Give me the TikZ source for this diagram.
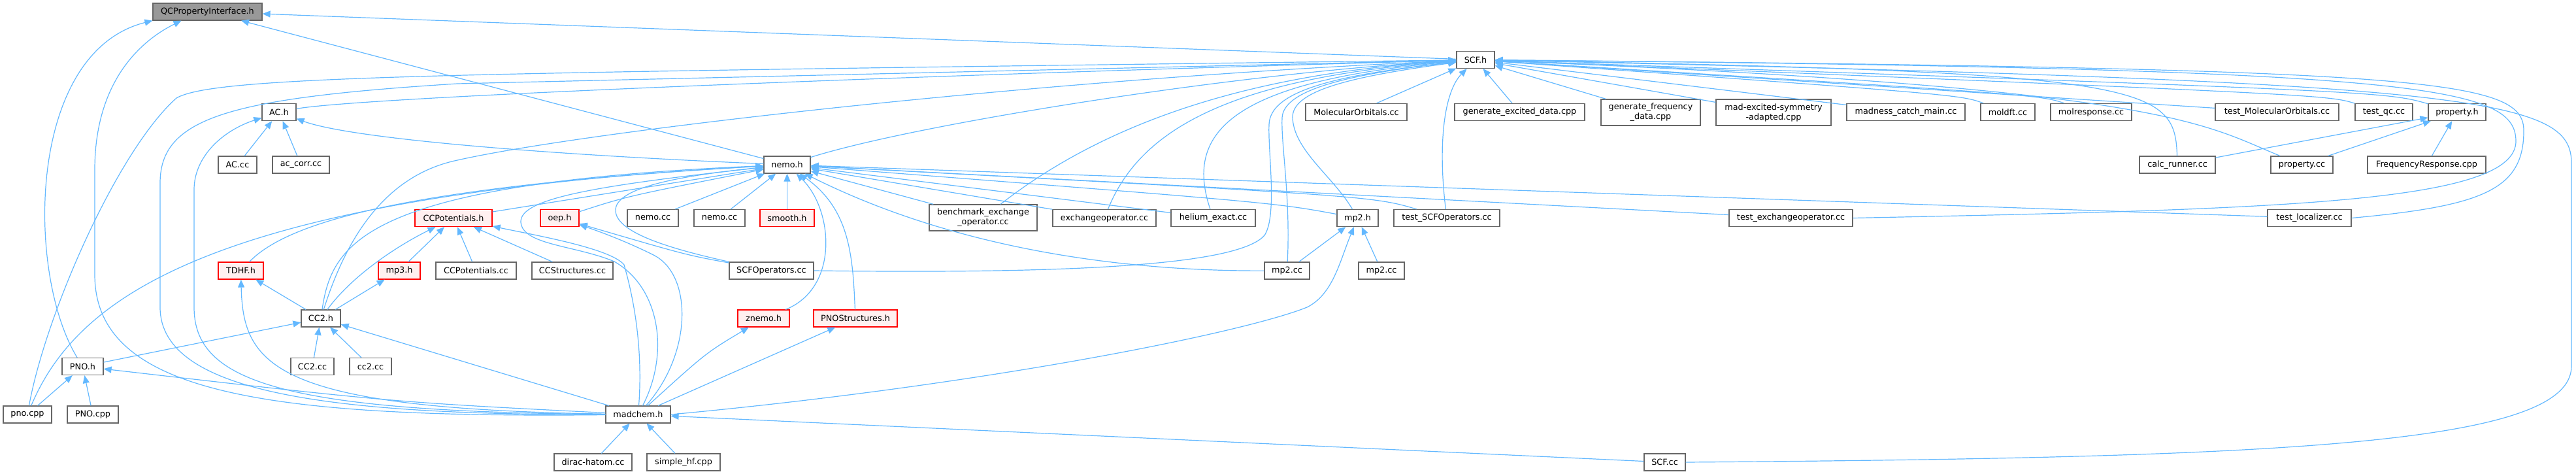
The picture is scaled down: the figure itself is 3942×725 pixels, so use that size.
\documentclass[tikz,border=0pt]{standalone}
\usepackage{fontspec}
\setmainfont{DejaVu Sans}
\usetikzlibrary{arrows.meta}

\definecolor{incblue}{HTML}{63B8FF}
\definecolor{boxline}{HTML}{666666}
\definecolor{rootfill}{HTML}{999999}
\definecolor{cutfill}{HTML}{FFF0F0}

\begin{document}
\begin{tikzpicture}[x=1pt, y=-1pt,
    file/.style={draw=boxline, fill=white, line width=1.2pt, inner sep=0pt, minimum height=26pt, align=center, font=\fontsize{12.8}{15}\selectfont},
    cut/.style={file, draw=red, fill=cutfill},
    root/.style={file, fill=rootfill},
    inc/.style={draw=incblue, line width=1.2pt, -{Triangle[length=12pt,width=10pt]}}]
    \useasboundingbox (0,0) rectangle (3942,725);

    % rank 0 and 1
    \node[root, minimum width=167pt] (qcpi) at (317.5,18) {QCPropertyInterface.h};
    \node[file, minimum width=58pt] (scfh) at (2258,91.5) {SCF.h};

    % rank 2
    \node[file, minimum width=52pt] (ach) at (427,171.5) {AC.h};
    \node[file, minimum width=155pt] (molorb) at (2075.5,171.5) {MolecularOrbitals.cc};
    \node[file, minimum width=199pt] (genexc) at (2325.5,171.5) {generate\_excited\_data.cpp};
    \node[file, minimum width=152pt, minimum height=40pt] (genfreq) at (2526,172) {generate\_frequency\\\_data.cpp};
    \node[file, minimum width=176pt, minimum height=40pt] (madexc) at (2714,172) {mad-excited-symmetry\\-adapted.cpp};
    \node[file, minimum width=181pt] (catchmain) at (2916.5,171.5) {madness\_catch\_main.cc};
    \node[file, minimum width=83pt] (moldft) at (3072.5,171.5) {moldft.cc};
    \node[file, minimum width=124pt] (molresp) at (3200,171.5) {molresponse.cc};
    \node[file, minimum width=189pt] (testmo) at (3484.5,171.5) {test\_MolecularOrbitals.cc};
    \node[file, minimum width=88pt] (testqc) at (3648,171.5) {test\_qc.cc};
    \node[file, minimum width=88pt] (proph) at (3760,171.5) {property.h};

    % rank 3
    \node[file, minimum width=59pt] (accc) at (363.5,252) {AC.cc};
    \node[file, minimum width=87pt] (accorr) at (460.5,252) {ac\_corr.cc};
    \node[file, minimum width=71pt] (nemoh) at (1204.5,252) {nemo.h};
    \node[file, minimum width=116pt] (calcrun) at (3332,252) {calc\_runner.cc};
    \node[file, minimum width=95pt] (propcc) at (3522.5,252) {property.cc};
    \node[file, minimum width=181pt] (freqresp) at (3713.5,252) {FrequencyResponse.cpp};

    % rank 4
    \node[cut, minimum width=118pt] (ccpoth) at (694,333.5) {CCPotentials.h};
    \node[cut, minimum width=59pt] (oeph) at (856.5,333.5) {oep.h};
    \node[file, minimum width=78pt] (nemocc) at (999,333.5) {nemo.cc};
    \node[file, minimum width=78pt] (nemoccb) at (1101,333.5) {nemo.cc};
    \node[cut, minimum width=83pt] (smoothh) at (1204.5,333.5) {smooth.h};
    \node[file, minimum width=165pt, minimum height=40pt] (bench) at (1504.5,333) {benchmark\_exchange\\\_operator.cc};
    \node[file, minimum width=158pt] (exchop) at (1690,333.5) {exchangeoperator.cc};
    \node[file, minimum width=129pt] (helium) at (1856.5,333.5) {helium\_exact.cc};
    \node[file, minimum width=63pt] (mptwoh) at (2077.5,333.5) {mp2.h};
    \node[file, minimum width=162pt] (testscfop) at (2214,333.5) {test\_SCFOperators.cc};
    \node[file, minimum width=189pt] (testexch) at (2740.5,333.5) {test\_exchangeoperator.cc};
    \node[file, minimum width=128pt] (testloc) at (3534,333.5) {test\_localizer.cc};

    % rank 5
    \node[cut, minimum width=69pt] (tdhfh) at (368.5,414) {TDHF.h};
    \node[cut, minimum width=64pt] (mpthreeh) at (611,414) {mp3.h};
    \node[file, minimum width=123pt] (ccpotcc) at (728.5,414) {CCPotentials.cc};
    \node[file, minimum width=124pt] (ccstruct) at (876,414) {CCStructures.cc};
    \node[file, minimum width=129pt] (scfopcc) at (1180.5,414) {SCFOperators.cc};
    \node[file, minimum width=69pt] (mptwocc) at (1969.5,414) {mp2.cc};
    \node[file, minimum width=70pt] (mptwoccb) at (2114,414) {mp2.cc};

    % rank 6 and 7
    \node[file, minimum width=60pt] (cctwoh) at (491,487) {CC2.h};
    \node[cut, minimum width=79pt] (znemoh) at (1168.5,487) {znemo.h};
    \node[cut, minimum width=128pt] (pnostruct) at (1309,487) {PNOStructures.h};
    \node[file, minimum width=63pt] (pnoh) at (126.5,560.5) {PNO.h};
    \node[file, minimum width=66pt] (cctwocc) at (478,560.5) {CC2.cc};
    \node[file, minimum width=64pt] (cctwoccb) at (567,560.5) {cc2.cc};

    % rank 8 and 9
    \node[file, minimum width=74pt] (pnocpp) at (42,634) {pno.cpp};
    \node[file, minimum width=78pt] (pnocppb) at (142,634) {PNO.cpp};
    \node[file, minimum width=99pt] (madchem) at (976.5,634) {madchem.h};
    \node[file, minimum width=119pt] (dirac) at (907.5,707) {dirac-hatom.cc};
    \node[file, minimum width=112pt] (simplehf) at (1046,707) {simple\_hf.cpp};
    \node[file, minimum width=63pt] (scfcc) at (2547.5,707) {SCF.cc};

    % into QCPropertyInterface.h
    \draw[inc] (scfh) -- (qcpi);
    \draw[inc] (nemoh) -- (qcpi);
    \draw[inc] (pnoh) .. controls (40,420) and (40,80) .. (qcpi.south west);
    \draw[inc] (madchem) .. controls (400,640) and (145,600) .. (145,420) -- (145,260) .. controls (145,120) and (220,60) .. ([xshift=-40pt]qcpi.south);

    % into SCF.h
    \draw[inc] (pnocpp) .. controls (70,480) and (180,230) .. (270,150) .. controls (330,115) and (700,112) .. (scfh);
    \draw[inc] (madchem) .. controls (500,635) and (245,600) .. (245,470) -- (245,280) .. controls (245,180) and (350,150) .. (700,128) -- (scfh);
    \draw[inc] (ach) .. controls (540,150) and (1300,118) .. (scfh);
    \draw[inc] (cctwoh) .. controls (525,380) and (580,270) .. (700,245) .. controls (900,200) and (1600,120) .. (scfh);
    \draw[inc] (nemoh) .. controls (1400,190) and (1900,110) .. (scfh);
    \draw[inc] (bench) .. controls (1650,220) and (1850,115) .. (scfh);
    \draw[inc] (exchop) .. controls (1740,210) and (1860,120) .. (scfh);
    \draw[inc] (helium) .. controls (1815,210) and (1870,125) .. (scfh);
    \draw[inc] (scfopcc.east) .. controls (1700,420) and (1900,400) .. (1935,360) .. controls (1955,330) and (1940,230) .. (1942,190) .. controls (1944,140) and (2040,115) .. (scfh);
    \draw[inc] (mptwocc) .. controls (1975,300) and (1960,220) .. (1962,180) .. controls (1964,140) and (2050,115) .. (scfh);
    \draw[inc] (mptwoh) .. controls (2040,270) and (1980,230) .. (1978,180) .. controls (1977,140) and (2060,118) .. (scfh);
    \draw[inc] (testscfop) .. controls (2200,220) and (2210,140) .. (scfh);
    \draw[inc] (molorb) -- (scfh);
    \draw[inc] (genexc) -- (scfh);
    \draw[inc] (genfreq) -- (scfh);
    \draw[inc] (madexc) -- (scfh);
    \draw[inc] (catchmain) -- (scfh);
    \draw[inc] (moldft) .. controls (3000,145) .. (scfh);
    \draw[inc] (molresp) .. controls (3120,145) .. (scfh);
    \draw[inc] (testmo) -- (scfh);
    \draw[inc] (testqc) .. controls (3560,145) .. (scfh);
    \draw[inc] (proph) .. controls (3650,140) .. (scfh);
    \draw[inc] (calcrun) .. controls (3328,130) and (3290,110) .. (scfh);
    \draw[inc] (propcc) .. controls (3370,190) and (3320,135) .. (scfh);
    \draw[inc] (testexch.east) .. controls (3500,320) and (3852,310) .. (3850,215) .. controls (3848,130) and (3700,105) .. (scfh);
    \draw[inc] (testloc.east) .. controls (3800,315) and (3862,290) .. (3862,200) .. controls (3862,120) and (3720,105) .. (scfh);
    \draw[inc] (scfcc.east) .. controls (3500,700) and (3935,680) .. (3935,560) -- (3935,250) .. controls (3935,150) and (3800,125) .. (scfh);

    % into nemo.h
    \draw[inc] (ccpoth) -- (nemoh);
    \draw[inc] (oeph) .. controls (960,300) .. (nemoh);
    \draw[inc] (nemocc) -- (nemoh);
    \draw[inc] (nemoccb) -- (nemoh);
    \draw[inc] (smoothh) -- (nemoh);
    \draw[inc] (znemoh) .. controls (1285,440) and (1275,320) .. (nemoh);
    \draw[inc] (pnostruct) .. controls (1305,390) and (1300,320) .. (nemoh);
    \draw[inc] (tdhfh) .. controls (440,340) and (620,285) .. (nemoh);
    \draw[inc] (cctwoh) .. controls (508,370) and (560,280) .. (nemoh);
    \draw[inc] (pnocpp) .. controls (120,450) and (330,300) .. (nemoh);
    \draw[inc] (madchem) .. controls (1025,540) and (1010,440) .. (940,400) .. controls (880,375) and (800,375) .. (797,340) .. controls (795,305) and (900,285) .. (nemoh);
    \draw[inc] (scfopcc.north west) .. controls (1000,375) and (940,350) .. (942,320) .. controls (945,285) and (1050,268) .. (nemoh);
    \draw[inc] (bench) -- (nemoh);
    \draw[inc] (exchop) -- (nemoh);
    \draw[inc] (helium) -- (nemoh);
    \draw[inc] (mptwoh) .. controls (1950,310) .. (nemoh);
    \draw[inc] (mptwocc) .. controls (1700,415) and (1450,375) .. (nemoh);
    \draw[inc] (testscfop) .. controls (2100,300) .. (nemoh);
    \draw[inc] (testexch) -- (nemoh);
    \draw[inc] (testloc) -- (nemoh);

    % into AC.h
    \draw[inc] (accc) -- (ach);
    \draw[inc] (accorr) -- (ach);
    \draw[inc] (nemoh) .. controls (800,235) and (530,210) .. (ach);
    \draw[inc] (madchem) .. controls (420,630) and (297,580) .. (297,470) -- (297,290) .. controls (297,240) and (340,200) .. (ach);

    % into CCPotentials.h and oep.h
    \draw[inc] (ccpotcc) -- (ccpoth);
    \draw[inc] (ccstruct) -- (ccpoth);
    \draw[inc] (mpthreeh) -- (ccpoth);
    \draw[inc] (cctwoh) .. controls (540,420) and (610,375) .. (ccpoth);
    \draw[inc] (madchem) .. controls (985,520) and (965,440) .. (955,405) .. controls (935,380) and (820,360) .. (ccpoth);
    \draw[inc] (scfopcc) .. controls (1050,390) .. (oeph);
    \draw[inc] (madchem) .. controls (1060,540) and (1060,420) .. (1000,390) .. controls (960,370) and (920,355) .. (oeph);

    % into TDHF.h, mp3.h, CC2.h, PNO.h
    \draw[inc] (cctwoh) -- (tdhfh);
    \draw[inc] (cctwoh) -- (mpthreeh);
    \draw[inc] (madchem) .. controls (420,625) and (372,560) .. (tdhfh);
    \draw[inc] (cctwocc) -- (cctwoh);
    \draw[inc] (cctwoccb) -- (cctwoh);
    \draw[inc] (pnoh) -- (cctwoh);
    \draw[inc] (madchem) -- (cctwoh);
    \draw[inc] (pnocpp) -- (pnoh);
    \draw[inc] (pnocppb) -- (pnoh);
    \draw[inc] (madchem) .. controls (600,615) .. (pnoh);

    % into znemo.h, PNOStructures.h, mp2.h
    \draw[inc] (madchem) .. controls (1080,540) .. (znemoh);
    \draw[inc] (madchem) -- (pnostruct);
    \draw[inc] (madchem.east) .. controls (1500,590) and (1900,510) .. (2000,470) .. controls (2040,450) and (2050,400) .. (mptwoh);
    \draw[inc] (mptwocc) -- (mptwoh);
    \draw[inc] (mptwoccb) -- (mptwoh);

    % into property.h
    \draw[inc] (calcrun) -- (proph);
    \draw[inc] (propcc) -- (proph);
    \draw[inc] (freqresp) -- (proph);

    % into madchem.h
    \draw[inc] (dirac) -- (madchem);
    \draw[inc] (simplehf) -- (madchem);
    \draw[inc] (scfcc) -- (madchem);
\end{tikzpicture}
\end{document}
